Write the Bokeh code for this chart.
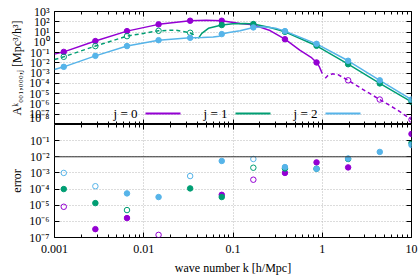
from bokeh.plotting import figure
from bokeh.models import LogAxis, FixedTicker, Range1d, Span, Label, BoxAnnotation
from bokeh.layouts import column
from bokeh.embed import file_html
from bokeh.resources import INLINE

FONT = "Liberation Serif"
PURPLE = "#9400D3"
GREEN = "#009E73"
BLUE = "#56B4E9"

# ---------------- data ----------------
X_TICKS = [0.001, 0.01, 0.1, 1, 10]
X_TICK_LABELS = ["0.001", "0.01", "0.1", "1", "10"]
X_MINOR_TICKS = [0.002, 0.003, 0.004, 0.005, 0.006, 0.007, 0.008, 0.009,
                 0.02, 0.03, 0.04, 0.05, 0.06, 0.07, 0.08, 0.09,
                 0.2, 0.3, 0.4, 0.5, 0.6, 0.7, 0.8, 0.9,
                 2, 3, 4, 5, 6, 7, 8, 9]
TOP_Y_TICKS = [1e-8, 1e-7, 1e-6, 1e-5, 1e-4, 1e-3, 1e-2, 1e-1, 1e0, 1e1, 1e2, 1e3]
TOP_Y_LABELS = ["10⁻⁸", "10⁻⁷", "10⁻⁶", "10⁻⁵", "10⁻⁴", "10⁻³", "10⁻²",
                "10⁻¹", "10⁰", "10¹", "10²", "10³"]
BOT_Y_TICKS = [1e-7, 1e-6, 1e-5, 1e-4, 1e-3, 1e-2, 1e-1]
BOT_Y_LABELS = ["10⁻⁷", "10⁻⁶", "10⁻⁵", "10⁻⁴", "10⁻³", "10⁻²", "10⁻¹"]
LEGEND_LABELS = ["j = 0", "j = 1", "j = 2"]

# curves (A^k values)
j0_solid_k = [0.001, 0.00127, 0.00287, 0.00649, 0.01466, 0.0331, 0.05, 0.0748,
              0.12, 0.169, 0.26, 0.382, 0.56, 0.75, 0.863, 0.93, 0.98, 1.0]
j0_solid_A = [0.071, 0.117, 1.32, 12.3, 56, 126, 138, 126,
              69, 50, 14, 2.0, 0.17, 0.035, 0.011, 0.004, 0.0014, 0.00093]
j0_dash_k = [1.08, 1.15, 1.3, 1.5, 1.95, 3.0, 4.41, 7.0, 10.0]
j0_dash_A = [3.2e-4, 5.6e-4, 8.5e-4, 7.1e-4, 2.0e-4, 2.0e-5, 2.7e-6, 2.5e-7, 3.0e-8]

j1_dash_k = [0.001, 0.00127, 0.00287, 0.00649, 0.01466, 0.0225, 0.0331, 0.036, 0.0385]
j1_dash_A = [0.021, 0.039, 0.43, 4.0, 13.2, 15.5, 8.5, 5.6, 2.4]
j1_solid_k = [0.0409, 0.0447, 0.053, 0.0748, 0.1, 0.136, 0.169, 0.26, 0.382,
              0.863, 1.95, 4.41, 10.0]
j1_solid_A = [2.4, 7.4, 23, 48, 63, 69, 60, 28, 10.5,
              0.46, 0.0074, 1.0e-4, 1.6e-6]

j2_k = [0.001, 0.00127, 0.00287, 0.00649, 0.01466, 0.0331, 0.045, 0.06, 0.07,
        0.0748, 0.09, 0.12, 0.169, 0.22, 0.3, 0.382, 0.863, 1.95, 4.41, 10.0]
j2_A = [0.0023, 0.0041, 0.048, 0.43, 1.62, 2.75, 3.0, 3.3, 4.0,
        6.3, 8.9, 13.2, 28, 33, 24, 12.3, 0.71, 0.016, 2.0e-4, 2.7e-6]

# sample points on the curves
j0_pt_k = [0.00127, 0.00287, 0.00649, 0.01466, 0.0331, 0.0748, 0.169, 0.382, 0.863]
j0_pt_A = [0.117, 1.32, 12.3, 56, 126, 126, 50, 2.0, 0.011]
j0_open_k = [1.95, 4.41, 10.0]
j0_open_A = [2.0e-4, 2.7e-6, 3.0e-8]
j1_open_k = [0.00127, 0.00287, 0.00649, 0.01466, 0.0331]
j1_open_A = [0.039, 0.43, 4.0, 13.2, 8.5]
j1_pt_k = [0.0748, 0.169, 0.382, 0.863, 1.95, 4.41, 10.0]
j1_pt_A = [48, 60, 10.5, 0.46, 0.0074, 1.0e-4, 1.6e-6]
j2_pt_k = [0.00127, 0.00287, 0.00649, 0.01466, 0.0331, 0.0748, 0.169, 0.382,
           0.863, 1.95, 4.41, 10.0]
j2_pt_A = [0.0041, 0.048, 0.43, 1.62, 2.75, 6.3, 28, 12.3, 0.71, 0.016, 2.0e-4, 2.7e-6]

# errors
e0_fill_k = [0.00287, 0.00649, 0.0748, 0.382, 0.863, 1.95, 10.0]
e0_fill = [3.3e-7, 1.6e-6, 4.4e-5, 1.0e-3, 4.5e-3, 2.2e-3, 0.26]
e0_open_k = [0.00127, 0.01466, 0.169]
e0_open = [8e-6, 1.45e-7, 3.8e-4]
e1_fill_k = [0.00127, 0.00287, 0.0331, 0.0748, 0.382, 0.863, 1.95, 10.0]
e1_fill = [1.0e-4, 1.35e-5, 1.1e-4, 3.2e-5, 1.9e-3, 1.8e-3, 7.3e-3, 0.072]
e1_open_k = [0.00649, 0.169]
e1_open = [5e-6, 2.1e-3]
e2_fill_k = [0.00649, 0.01466, 0.0748, 0.382, 0.863, 1.95, 4.41, 10.0]
e2_fill = [5.4e-5, 3.2e-5, 5.5e-3, 2.3e-3, 1.8e-3, 7.8e-3, 0.02, 0.054]
e2_open_k = [0.00127, 0.00287, 0.0331, 0.169]
e2_open = [1.0e-3, 1.5e-4, 6.4e-4, 7.3e-3]

# ---------------- helpers ----------------
W = 420
LEFT = 54
RIGHT = 9


def style_axis(ax, ticker, labels=None):
    ax.ticker = ticker
    ax.axis_line_color = None
    ax.major_tick_line_color = "black"
    ax.minor_tick_line_color = "black"
    ax.major_tick_in = 5
    ax.major_tick_out = 0
    ax.minor_tick_in = 3
    ax.minor_tick_out = 0
    ax.major_label_text_font = FONT
    ax.major_label_text_color = "black"
    ax.axis_label_text_font = FONT
    ax.axis_label_text_font_style = "normal"
    ax.axis_label_text_font_size = "12px"
    ax.axis_label_text_color = "black"
    if labels is None:
        ax.major_label_text_font_size = "1px"
        ax.major_label_text_alpha = 0.0
        ax.major_label_standoff = 0
    else:
        ax.major_label_text_font_size = "12px"
        ax.major_label_overrides = labels


def make_fig(height, y_range, y_ticks, y_labels, border_top, border_bottom, x_labels):
    p = figure(width=W, height=height, x_axis_type="log", y_axis_type="log",
               x_range=Range1d(0.001, 10), y_range=Range1d(*y_range),
               output_backend="svg", toolbar_location=None,
               min_border_left=LEFT, min_border_right=RIGHT,
               min_border_top=border_top, min_border_bottom=border_bottom)
    p.background_fill_color = "white"
    p.border_fill_color = "white"
    p.outline_line_color = "black"
    p.outline_line_width = 1
    xt = FixedTicker(ticks=X_TICKS, minor_ticks=X_MINOR_TICKS)
    yt = FixedTicker(ticks=y_ticks, minor_ticks=[])
    left_axis = p.left[0]
    below_axis = p.below[0]
    style_axis(left_axis, yt, dict(zip(y_ticks, y_labels)))
    left_axis.major_label_standoff = 5
    left_axis.axis_label_standoff = 2
    style_axis(below_axis, xt, x_labels)
    ra = LogAxis()
    style_axis(ra, yt)
    p.add_layout(ra, "right")
    ta = LogAxis()
    style_axis(ta, xt)
    p.add_layout(ta, "above")
    for g in (p.xgrid[0], p.ygrid[0]):
        g.grid_line_color = "#b8b8b8"
        g.grid_line_dash = "1 2"
        g.grid_line_width = 1
    p.xgrid[0].ticker = xt
    p.ygrid[0].ticker = yt
    return p, left_axis, below_axis


# ---------------- top panel ----------------
top, top_left, top_below = make_fig(124, (1e-8, 1e3), TOP_Y_TICKS, TOP_Y_LABELS, 11, 0, None)
top_left.axis_label = "Aᵏ₀₀₁,₀₀₀,ⱼ [Mpc³/h³]"

LW = 1.5
top.line(j0_solid_k, j0_solid_A, line_color=PURPLE, line_width=LW)
top.line(j0_dash_k, j0_dash_A, line_color=PURPLE, line_width=LW, line_dash="4 3")
top.line(j1_dash_k, j1_dash_A, line_color=GREEN, line_width=LW, line_dash="4 3")
top.line(j1_solid_k, j1_solid_A, line_color=GREEN, line_width=LW)
top.line(j2_k, j2_A, line_color=BLUE, line_width=LW)

MS = 5.5
top.scatter(j0_pt_k, j0_pt_A, marker="circle", size=MS, fill_color=PURPLE, line_color=PURPLE)
top.scatter(j0_open_k, j0_open_A, marker="circle", size=MS, fill_color=None, line_color=PURPLE)
top.scatter(j1_open_k, j1_open_A, marker="circle", size=MS, fill_color=None, line_color=GREEN)
top.scatter(j1_pt_k, j1_pt_A, marker="circle", size=MS, fill_color=GREEN, line_color=GREEN)
top.scatter(j2_pt_k, j2_pt_A, marker="circle", size=MS, fill_color=BLUE, line_color=BLUE)

# legend (gnuplot style: label then sample line)
legend_colors = [PURPLE, GREEN, BLUE]
legend_text_right = [83, 173, 263]
legend_y = 11
for lab, col, xr in zip(LEGEND_LABELS, legend_colors, legend_text_right):
    top.add_layout(Label(x=xr, y=legend_y, x_units="screen", y_units="screen",
                         text=lab, text_font=FONT, text_font_size="13px",
                         text_color="black", text_align="right",
                         text_baseline="middle"))
    top.add_layout(BoxAnnotation(left=xr + 8, right=xr + 43,
                                 bottom=legend_y - 1, top=legend_y + 1,
                                 left_units="screen", right_units="screen",
                                 top_units="screen", bottom_units="screen",
                                 fill_color=col, fill_alpha=1.0,
                                 line_color=None))

# ---------------- bottom panel ----------------
bot, bot_left, bot_below = make_fig(155, (1e-7, 1.0), BOT_Y_TICKS, BOT_Y_LABELS, 0, 42,
                                    dict(zip(X_TICKS, X_TICK_LABELS)))
bot_below.major_label_standoff = 7
bot_below.axis_label_standoff = 5
bot_below.axis_label = "wave number k [h/Mpc]"
bot_left.axis_label = "error"
bot.add_layout(Span(location=1e-2, dimension="width", line_color="#333333", line_width=1))

for fk, fv, ok, ov, col in [(e0_fill_k, e0_fill, e0_open_k, e0_open, PURPLE),
                            (e1_fill_k, e1_fill, e1_open_k, e1_open, GREEN),
                            (e2_fill_k, e2_fill, e2_open_k, e2_open, BLUE)]:
    bot.scatter(fk, fv, marker="circle", size=MS, fill_color=col, line_color=col)
    bot.scatter(ok, ov, marker="circle", size=MS, fill_color=None, line_color=col)

layout = column(top, bot, spacing=0)
open("out.html", "w").write(file_html(layout, INLINE))
